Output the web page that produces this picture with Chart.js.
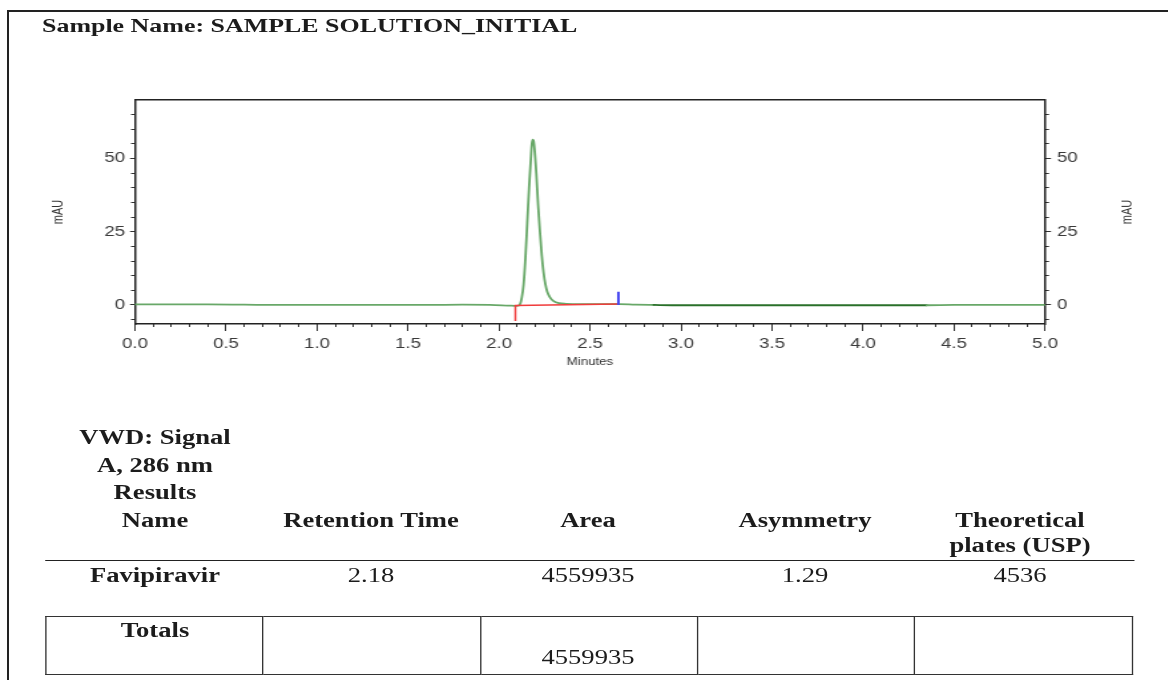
<!DOCTYPE html>
<html>
<head>
<meta charset="utf-8">
<script src="https://cdn.jsdelivr.net/npm/chart.js@4"></script>
<style>
html,body{margin:0;padding:0;background:#fff;}
body{width:1168px;height:680px;overflow:hidden;position:relative;}
#frame{position:absolute;left:7px;top:10px;width:1170px;height:700px;border-left:2px solid #222;border-top:2px solid #222;}
#wrap{position:absolute;left:0;top:0;width:878px;height:680px;transform-origin:0 0;transform:scaleX(1.33);}
#chartBox{position:absolute;left:0;top:0;width:878px;height:380px;}
.t{position:absolute;width:300px;text-align:center;font-family:"Liberation Serif","Times New Roman",serif;font-size:20px;line-height:24px;color:#1c1c1c;white-space:nowrap;}
.b{font-weight:bold;}
.l{text-align:left;}
#rule{position:absolute;height:0;border-top:1.5px solid #222;}
#totals{position:absolute;border-collapse:collapse;}
#totals td{border:1.5px solid #333;padding:0;}
#mauR{position:absolute;font-family:"Liberation Sans",Arial,sans-serif;font-size:11px;color:#333;width:40px;text-align:center;line-height:12px;transform:rotate(-90deg);}
</style>
</head>
<body>
<div id="frame"></div>
<div id="wrap">
  <div id="chartBox"><canvas id="c" width="878" height="380"></canvas></div>
</div>
<script>
// ---- chromatogram data ----
const chromTime = [0.00,0.20,0.40,0.60,0.80,1.00,1.20,1.40,1.60,1.80,1.95,2.05,2.10,2.115,2.125,2.135,2.145,2.155,2.165,2.175,2.18,2.185,2.19,2.195,2.205,2.215,2.225,2.235,2.245,2.255,2.265,2.28,2.30,2.33,2.37,2.45,2.55,2.66,2.75,2.85,3.00,3.20,3.40,3.60,3.80,4.00,4.20,4.35,4.50,4.70,4.90,5.00];
const chromSignal = [0.2,0.2,0.2,0.1,0.0,0.0,0.0,0.0,0.0,0.1,0.0,-0.2,-0.3,0.2,2.5,7,16,28,40,50,54.8,56.5,56,53.5,45,34,25,17,11,7,4.5,2.6,1.3,0.6,0.4,0.3,0.3,0.3,0.1,0.0,-0.1,-0.1,-0.1,-0.1,-0.1,-0.1,-0.1,-0.1,0.0,0.0,0.0,0.0];
// integration baseline (red) and end-of-peak marker (blue)
const baselineTime = [2.09,2.09,2.66];
const baselineSignal = [-5.5,-0.2,0.3];
const markerTime = [2.656,2.656];
const markerSignal = [0,4.5];
// axis ticks
const xMajorTicks = [0.0,0.5,1.0,1.5,2.0,2.5,3.0,3.5,4.0,4.5,5.0];
const xMinorTicks = [0.0,0.1,0.2,0.3,0.4,0.5,0.6,0.7,0.8,0.9,1.0,1.1,1.2,1.3,1.4,1.5,1.6,1.7,1.8,1.9,2.0,2.1,2.2,2.3,2.4,2.5,2.6,2.7,2.8,2.9,3.0,3.1,3.2,3.3,3.4,3.5,3.6,3.7,3.8,3.9,4.0,4.1,4.2,4.3,4.4,4.5,4.6,4.7,4.8,4.9,5.0];
const yMajorTicks = [0,25,50];
const yMinorTicks = [-5,0,5,10,15,20,25,30,35,40,45,50,55,60,65];
// ---- results table ----
const peakNames = ["Favipiravir"];
const retentionTimes = ["2.18"];
const peakAreas = ["4559935"];
const asymmetries = ["1.29"];
const plateCounts = ["4536"];
const totalArea = "4559935";

const S = 1.33;
const wrap = document.getElementById('wrap');
function place(text, cx, cy, bold) {
  const d = document.createElement('div');
  d.className = 't' + (bold ? ' b' : '');
  d.textContent = text;
  d.style.left = (cx / S - 150) + 'px';
  d.style.top = (cy - 12) + 'px';
  wrap.appendChild(d);
  return d;
}
// title
const ttl = place('Sample Name: SAMPLE SOLUTION_INITIAL', 0, 26, true);
ttl.classList.add('l'); ttl.style.left = (42 / S) + 'px'; ttl.style.width = 'auto'; ttl.style.fontSize = '19.5px';

// right mAU
const m = document.createElement('div');
m.id = 'mauR'; m.textContent = 'mAU';
m.style.left = (1127 / S - 20) + 'px'; m.style.top = (212 - 6) + 'px';
wrap.appendChild(m);

// table headers
const colX = [155, 371, 588, 805, 1020];
place('VWD: Signal', colX[0], 437, true);
place('A, 286 nm', colX[0], 465, true);
place('Results', colX[0], 492, true);
place('Name', colX[0], 520, true);
place('Retention Time', colX[1], 520, true);
place('Area', colX[2], 520, true);
place('Asymmetry', colX[3], 520, true);
place('Theoretical', colX[4], 520, true);
place('plates (USP)', colX[4], 545, true);
const rule = document.createElement('div');
rule.id = 'rule';
rule.style.left = (45 / S) + 'px'; rule.style.width = ((1135 - 45) / S) + 'px'; rule.style.top = '560px';
wrap.appendChild(rule);
peakNames.forEach((n, i) => {
  const y = 575 + i * 30;
  place(n, colX[0], y, true);
  place(retentionTimes[i], colX[1], y, false);
  place(peakAreas[i], colX[2], y, false);
  place(asymmetries[i], colX[3], y, false);
  place(plateCounts[i], colX[4], y, false);
});
const tb = document.createElement('table');
tb.id = 'totals';
tb.style.left = (45 / S) + 'px'; tb.style.top = '616px';
tb.style.width = ((1133 - 45) / S) + 'px'; tb.style.height = '59px';
const tr = document.createElement('tr');
for (let i = 0; i < 5; i++) { const td = document.createElement('td'); td.style.width = '20%'; tr.appendChild(td); }
tb.appendChild(tr); wrap.appendChild(tb);
place('Totals', colX[0], 630, true);
place(totalArea, colX[2], 657, false);

// ---- chart ----
const toXY = (xs, ys) => xs.map((x, i) => ({x: x, y: ys[i]}));
const tickFont = {family: '"Liberation Sans", Arial, sans-serif', size: 14};
const axisCol = '#222';
const darkFrom = 2.85, darkTo = 4.35;
function yAxis(pos, major, weight, width, tl, pad, title) {
  return {
    type: 'linear', position: pos, min: -6.5, max: 70, weight: weight,
    afterFit: s => { s.width = width; },
    afterBuildTicks: s => { s.ticks = (major ? yMajorTicks : yMinorTicks).map(v => ({value: v})); },
    ticks: {display: major, autoSkip: false, padding: pad, color: '#3a3a3a', font: tickFont},
    grid: {drawOnChartArea: false, drawTicks: true, tickLength: tl, color: '#333', lineWidth: 1},
    border: {display: major, color: axisCol, width: 1.5},
    title: title || {display: false}
  };
}
new Chart(document.getElementById('c'), {
  type: 'line',
  data: {
    datasets: [
      {data: toXY(chromTime, chromSignal), borderColor: '#68a868', borderWidth: 1.8, borderJoinStyle: 'round', borderCapStyle: 'round',
       pointRadius: 0, cubicInterpolationMode: 'monotone', order: 2,
       segment: {borderColor: c => (c.p0.parsed.x >= darkFrom && c.p1.parsed.x <= darkTo) ? '#2a702a' : undefined}},
      {data: toXY(baselineTime, baselineSignal), borderColor: '#f03c3c', borderWidth: 1.5, pointRadius: 0, tension: 0, order: 1},
      {data: toXY(markerTime, markerSignal), borderColor: '#4848f0', borderWidth: 2, pointRadius: 0, tension: 0, order: 0}
    ]
  },
  options: {
    responsive: false, animation: false,
    layout: {padding: {top: 100, left: 0, right: 0, bottom: 0}},
    plugins: {legend: {display: false}, tooltip: {enabled: false}},
    scales: {
      x: {
        type: 'linear', position: 'bottom', min: 0, max: 5, weight: 1,
        afterFit: s => { s.height = 56; },
        afterBuildTicks: s => { s.ticks = xMajorTicks.map(v => ({value: v})); },
        ticks: {autoSkip: false, maxRotation: 0, padding: 5, color: '#3a3a3a', font: tickFont, callback: v => Number(v).toFixed(1)},
        grid: {drawOnChartArea: false, tickLength: 7, color: '#333', lineWidth: 1},
        border: {color: axisCol, width: 1.5},
        title: {display: true, text: 'Minutes', color: '#333', font: {family: '"Liberation Sans", Arial, sans-serif', size: 10}, padding: {top: 0, bottom: 12}}
      },
      xMinor: {
        type: 'linear', position: 'bottom', min: 0, max: 5, weight: 0,
        afterFit: s => { s.height = 0; },
        afterBuildTicks: s => { s.ticks = xMinorTicks.map(v => ({value: v})); },
        ticks: {display: false},
        grid: {drawOnChartArea: false, tickLength: 3, color: '#333', lineWidth: 1},
        border: {display: false}
      },
      xTop: {
        type: 'linear', position: 'top', min: 0, max: 5,
        afterFit: s => { s.height = 0; },
        ticks: {display: false},
        grid: {drawOnChartArea: false, drawTicks: false},
        border: {display: true, color: axisCol, width: 1.5}
      },
      y: yAxis('left', true, 1, 135 / S, 5 / S, 5 / S,
        {display: true, text: 'mAU', color: '#333', font: {family: '"Liberation Sans", Arial, sans-serif', size: 11}, padding: {top: 58 / S - 6.6, bottom: 0}}),
      yMinor: yAxis('left', false, 0, 0, 4 / S, 0),
      yR: yAxis('right', true, 1, 878 - 1045 / S, 6 / S, 6 / S),
      yRMinor: yAxis('right', false, 0, 0, 4 / S, 0)
    }
  }
});
</script>
</body>
</html>
